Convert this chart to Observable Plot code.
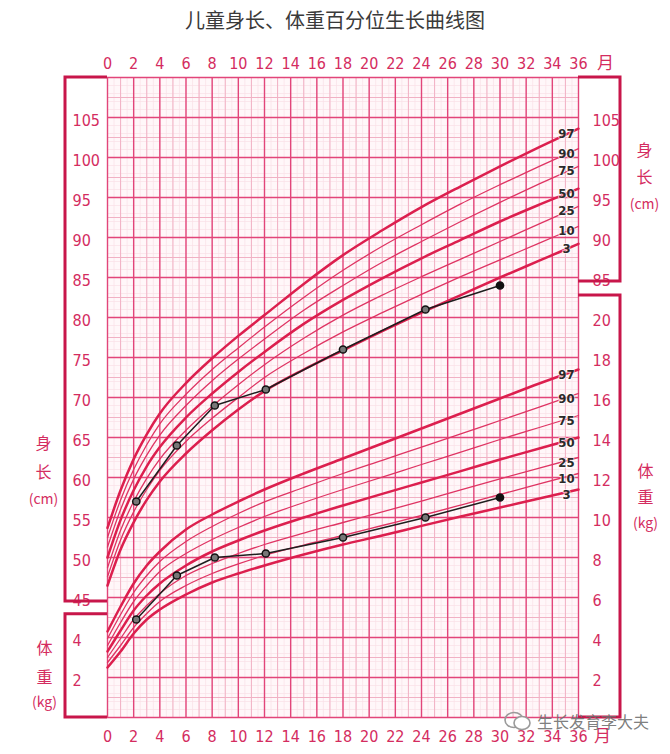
<!DOCTYPE html>
<html>
<head>
<meta charset="utf-8">
<script src="https://cdn.jsdelivr.net/npm/d3@7"></script>
<script src="https://cdn.jsdelivr.net/npm/@observablehq/plot@0.6"></script>
<style>
  html, body { margin: 0; padding: 0; background: #fff; }
  #wrap { position: relative; width: 670px; height: 754px; overflow: hidden; }
  #title { height: 40px; line-height: 40px; text-align: center; font-family: "Noto Sans CJK SC", sans-serif; font-size: 20px; color: #3a3a3a; }
  #chart svg { display: block; }
  #wm { position: absolute; left: 503px; top: 709px; display: flex; align-items: center; gap: 4px; font-family: "Noto Sans CJK SC", sans-serif; font-size: 16px; color: rgba(110,110,110,0.9); }
</style>
</head>
<body>
<div id="wrap">
  <div id="title">儿童身长、体重百分位生长曲线图</div>
  <div id="chart"></div>
  <div id="wm"><svg width="30" height="22" viewBox="0 0 30 22"><ellipse cx="11" cy="10" rx="9" ry="7.5" fill="none" stroke="#9a9a9a" stroke-width="1.6"/><ellipse cx="19" cy="13" rx="8" ry="6.5" fill="#fff" stroke="#9a9a9a" stroke-width="1.6"/></svg><span>生长发育李大夫</span></div>
</div>
<script>
// ---------- data ----------
const months = [0, 1, 2, 3, 4, 6, 8, 10, 12, 15, 18, 21, 24, 27, 30, 33, 36];
const percentileNames = ["3", "10", "25", "50", "75", "90", "97"];

// length (cm) percentiles
const heightP3  = [46.5, 51.0, 54.4, 57.2, 59.5, 63.0, 65.9, 68.5, 70.8, 73.5, 75.9, 78.3, 80.6, 82.8, 85.0, 87.1, 89.2];
const heightP10 = [47.6, 52.2, 55.7, 58.5, 60.9, 64.5, 67.4, 70.0, 72.5, 75.5, 78.2, 80.6, 82.9, 85.1, 87.2, 89.3, 91.4];
const heightP25 = [48.7, 53.4, 57.0, 59.9, 62.3, 65.9, 68.9, 71.6, 74.1, 77.4, 80.3, 82.8, 85.1, 87.3, 89.5, 91.7, 93.9];
const heightP50 = [50.0, 54.7, 58.4, 61.4, 63.8, 67.5, 70.5, 73.2, 75.7, 79.2, 82.2, 84.9, 87.4, 89.7, 92.0, 94.1, 96.1];
const heightP75 = [51.3, 56.0, 59.8, 62.8, 65.3, 69.0, 72.1, 74.8, 77.3, 80.9, 84.0, 86.9, 89.5, 92.0, 94.4, 96.7, 98.9];
const heightP90 = [52.5, 57.2, 61.0, 64.1, 66.7, 70.4, 73.5, 76.2, 78.8, 82.5, 85.9, 88.9, 91.6, 94.2, 96.6, 98.9, 101.1];
const heightP97 = [53.7, 58.4, 62.3, 65.4, 68.0, 71.8, 74.9, 77.7, 80.3, 84.2, 87.8, 90.9, 93.8, 96.4, 98.9, 101.3, 103.6];

// weight (kg) percentiles
const weightP3  = [2.5, 3.3, 4.2, 4.9, 5.4, 6.15, 6.75, 7.2, 7.6, 8.15, 8.65, 9.1, 9.58, 10.05, 10.5, 10.95, 11.4];
const weightP10 = [2.75, 3.6, 4.5, 5.2, 5.8, 6.6, 7.2, 7.68, 8.1, 8.62, 9.1, 9.6, 10.1, 10.62, 11.15, 11.68, 12.2];
const weightP25 = [3.0, 3.95, 4.9, 5.6, 6.2, 7.1, 7.7, 8.2, 8.65, 9.22, 9.75, 10.28, 10.82, 11.38, 11.93, 12.47, 13.0];
const weightP50 = [3.3, 4.35, 5.35, 6.1, 6.7, 7.6, 8.3, 8.85, 9.35, 10.0, 10.6, 11.18, 11.75, 12.32, 12.9, 13.45, 14.0];
const weightP75 = [3.6, 4.75, 5.8, 6.6, 7.3, 8.2, 8.9, 9.5, 10.05, 10.75, 11.4, 12.02, 12.65, 13.27, 13.9, 14.5, 15.1];
const weightP90 = [3.95, 5.15, 6.25, 7.1, 7.8, 8.8, 9.55, 10.2, 10.78, 11.5, 12.2, 12.86, 13.52, 14.18, 14.85, 15.52, 16.2];
const weightP97 = [4.3, 5.55, 6.7, 7.6, 8.3, 9.4, 10.15, 10.8, 11.4, 12.2, 12.95, 13.7, 14.45, 15.2, 15.95, 16.7, 17.4];

// the child's measurements
const childMonths = [2.2, 5.3, 8.2, 12.1, 18, 24.3, 30];
const childHeight = [57, 64, 69, 71, 76, 81, 84];
const childWeight = [4.9, 7.1, 8.0, 8.2, 9.0, 10.0, 11.0];

// tick labels
const monthTicks = [0, 2, 4, 6, 8, 10, 12, 14, 16, 18, 20, 22, 24, 26, 28, 30, 32, 34, 36];
const heightTicksLeft = [45, 50, 55, 60, 65, 70, 75, 80, 85, 90, 95, 100, 105];
const weightTicksLeft = [2, 4];
const heightTicksRight = [85, 90, 95, 100, 105];
const weightTicksRight = [2, 4, 6, 8, 10, 12, 14, 16, 18, 20];

// ---------- build ----------
// shared vertical grid: 5 cm of length == 2 kg of weight, 0 kg sits at 30 cm
const kgToGrid = w => 30 + 2.5 * w;

const heightSeries = [heightP3, heightP10, heightP25, heightP50, heightP75, heightP90, heightP97];
const weightSeries = [weightP3, weightP10, weightP25, weightP50, weightP75, weightP90, weightP97];
const curves = [];
percentileNames.forEach((p, i) => {
  months.forEach((m, j) => {
    curves.push({key: "h" + p, p, m, v: heightSeries[i][j]});
    curves.push({key: "w" + p, p, m, v: kgToGrid(weightSeries[i][j])});
  });
});
const thick = new Set(["3", "50", "97"]);
const child = childMonths.map((m, i) => ({m, h: childHeight[i], w: kgToGrid(childWeight[i]), last: i === childMonths.length - 1}));

const red = "#dc1f4e";
const labelColor = "#d42c60";
const numFont = "'Liberation Sans Narrow', 'DejaVu Sans Condensed', 'Liberation Sans', sans-serif";
const cjkFont = "'Noto Sans CJK SC', sans-serif";
const yTicks = d3.range(35, 106, 5);

const tickMarks = [];
if (Plot.axisTickY) {
  tickMarks.push(Plot.axisTickY(yTicks, {anchor: "left", tickSize: 12, stroke: "#e2457a", strokeWidth: 1.4}));
  tickMarks.push(Plot.axisTickY(yTicks, {anchor: "right", tickSize: 12, stroke: "#e2457a", strokeWidth: 1.4}));
}

const side = (rows, anchor, dx, dy, size) =>
  Plot.text(rows, {y: "y", text: "t", frameAnchor: anchor, textAnchor: "middle", lineAnchor: "middle", dx, dy, fill: labelColor, fontSize: size, fontFamily: cjkFont});

const chart = Plot.plot({
  width: 670,
  height: 714,
  marginLeft: 107,
  marginRight: 92,
  marginTop: 37,
  marginBottom: 37,
  x: {domain: [0, 36], axis: null},
  y: {domain: [30, 110], axis: null},
  style: {background: "white", overflow: "visible"},
  marks: [
    Plot.frame({fill: "#fff7f9", stroke: null}),
    // fine grid
    Plot.ruleX(d3.range(0, 36.01, 0.5), {stroke: "#f9dfe7", strokeWidth: 0.7}),
    Plot.ruleY(d3.range(30, 110.01, 1), {stroke: "#f9dfe7", strokeWidth: 0.7}),
    // medium grid
    Plot.ruleX(d3.range(1, 36, 2), {stroke: "#f1b1c4", strokeWidth: 1}),
    Plot.ruleY(d3.range(32.5, 110, 5), {stroke: "#f1b1c4", strokeWidth: 1}),
    // major grid
    Plot.ruleX(monthTicks, {stroke: "#e2457a", strokeWidth: 1.4}),
    Plot.ruleY(d3.range(30, 110.01, 5), {stroke: "#e2457a", strokeWidth: 1.4}),
    ...tickMarks,
    // percentile curves
    Plot.line(curves.filter(d => !thick.has(d.p)), {x: "m", y: "v", z: "key", curve: "monotone-x", stroke: "#df3463", strokeWidth: 1.3}),
    Plot.line(curves.filter(d => thick.has(d.p)), {x: "m", y: "v", z: "key", curve: "monotone-x", stroke: red, strokeWidth: 2.5}),
    // percentile labels
    Plot.text(curves.filter(d => d.m === 36), {x: "m", y: "v", text: "p", dx: -12, dy: 5, fontSize: 13, fontWeight: "bold", fill: "#2a2a2a", stroke: "white", strokeWidth: 2, strokeOpacity: 0.6, fontFamily: numFont}),
    // child
    Plot.line(child, {x: "m", y: "h", stroke: "#1e1e1e", strokeWidth: 1.5}),
    Plot.line(child, {x: "m", y: "w", stroke: "#1e1e1e", strokeWidth: 1.5}),
    Plot.dot(child, {x: "m", y: "h", r: 3.6, fill: d => d.last ? "#111" : "#777", stroke: "#111", strokeWidth: 1.5}),
    Plot.dot(child, {x: "m", y: "w", r: 3.6, fill: d => d.last ? "#111" : "#777", stroke: "#111", strokeWidth: 1.5}),
    // month labels
    Plot.text(monthTicks, {x: d => d, text: d => String(d), frameAnchor: "top", lineAnchor: "middle", dy: -14, fill: labelColor, fontSize: 16, fontFamily: numFont}),
    Plot.text(monthTicks, {x: d => d, text: d => String(d), frameAnchor: "bottom", lineAnchor: "middle", dy: 19, fill: labelColor, fontSize: 16, fontFamily: numFont}),
    Plot.text(["月"], {frameAnchor: "top-right", textAnchor: "middle", lineAnchor: "middle", dx: 27, dy: -14, fill: labelColor, fontSize: 17, fontFamily: cjkFont}),
    Plot.text(["月"], {frameAnchor: "bottom-right", textAnchor: "middle", lineAnchor: "middle", dx: 24, dy: 19, fill: labelColor, fontSize: 17, fontFamily: cjkFont}),
    // y tick labels
    Plot.text(heightTicksLeft, {y: d => d, text: d => String(d), frameAnchor: "left", dx: -35, dy: 3, textAnchor: "start", fill: labelColor, fontSize: 16, fontFamily: numFont}),
    Plot.text(weightTicksLeft, {y: d => kgToGrid(d), text: d => String(d), frameAnchor: "left", dx: -35, dy: 3, textAnchor: "start", fill: labelColor, fontSize: 16, fontFamily: numFont}),
    Plot.text(heightTicksRight, {y: d => d, text: d => String(d), frameAnchor: "right", dx: 14, dy: 3, textAnchor: "start", fill: labelColor, fontSize: 16, fontFamily: numFont}),
    Plot.text(weightTicksRight, {y: d => kgToGrid(d), text: d => String(d), frameAnchor: "right", dx: 14, dy: 3, textAnchor: "start", fill: labelColor, fontSize: 16, fontFamily: numFont}),
    // side titles (characters and units)
    side([{y: 60, t: "身"}], "left", -64, -34, 16),
    side([{y: 60, t: "长"}], "left", -64, -5, 16),
    side([{y: 60, t: "(cm)"}], "left", -64, 22, 14),
    side([{y: kgToGrid(2), t: "体"}], "left", -63, -29, 16),
    side([{y: kgToGrid(2), t: "重"}], "left", -63, 0, 16),
    side([{y: kgToGrid(2), t: "(kg)"}], "left", -63, 25, 14),
    side([{y: 97.5, t: "身"}], "right", 66, -27, 16),
    side([{y: 97.5, t: "长"}], "right", 66, 0, 16),
    side([{y: 97.5, t: "(cm)"}], "right", 66, 27, 14),
    side([{y: kgToGrid(11), t: "体"}], "right", 67, -26, 16),
    side([{y: kgToGrid(11), t: "重"}], "right", 67, 0, 16),
    side([{y: kgToGrid(11), t: "(kg)"}], "right", 67, 26, 14)
  ]
});

document.getElementById("chart").appendChild(chart);

// side boxes around the axis labels, placed with the chart's own scales
const sx = chart.scale("x"), sy = chart.scale("y");
const x0 = sx.apply(0), x1 = sx.apply(36), boxW = 42;
const boxes = [
  {side: "left", top: 110, bottom: 44.5},
  {side: "left", top: 42.9, bottom: 30},
  {side: "right", top: 110, bottom: 84.5},
  {side: "right", top: 82.75, bottom: 30}
];
const g = d3.select(chart).append("g").attr("fill", "none").attr("stroke", "#c8164a").attr("stroke-width", 3);
boxes.forEach(b => {
  const yt = sy.apply(b.top), yb = sy.apply(b.bottom);
  const xe = b.side === "left" ? x0 : x1;
  const xo = b.side === "left" ? x0 - boxW : x1 + boxW;
  g.append("path").attr("d", `M${xe},${yt}H${xo}V${yb}H${xe}`);
});
</script>
</body>
</html>
